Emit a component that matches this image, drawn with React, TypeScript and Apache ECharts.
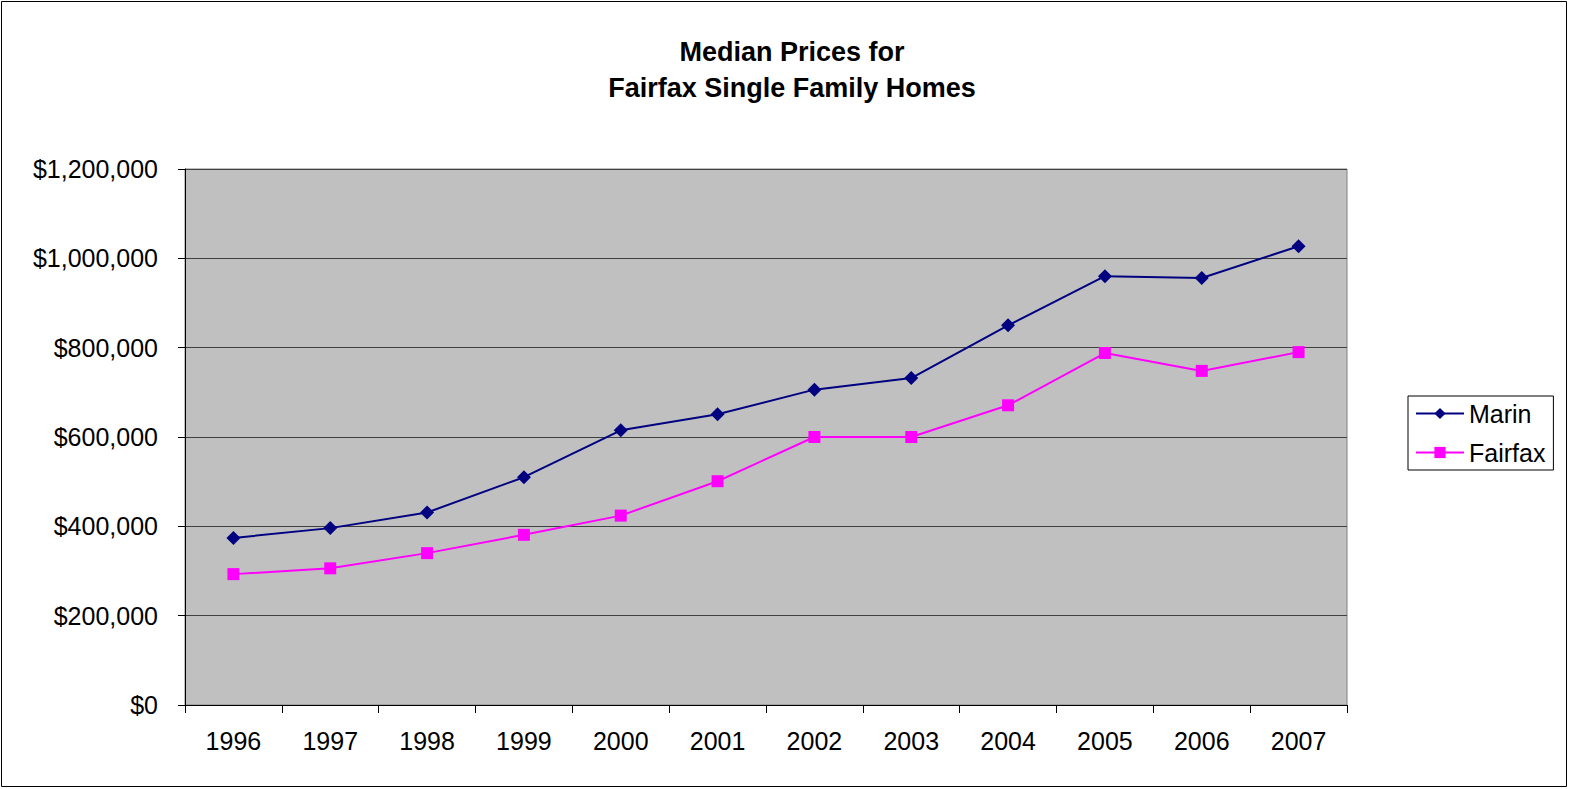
import React, { useEffect, useRef } from "react";
import * as echarts from "echarts";

const years = ["1996", "1997", "1998", "1999", "2000", "2001", "2002", "2003", "2004", "2005", "2006", "2007"];
const marin = [374000, 396000, 431000, 510000, 615000, 651000, 706000, 732000, 850000, 960000, 956000, 1027000];
const fairfax = [293000, 306000, 340000, 381000, 424000, 501000, 600000, 600000, 671000, 788000, 748000, 790000];
const titleLines = ["Median Prices for", "Fairfax Single Family Homes"];

const FONT = "'Liberation Sans', Arial, sans-serif";

export default function App() {
  const ref = useRef<HTMLDivElement>(null);
  useEffect(() => {
    const chart = echarts.init(ref.current!, null, { renderer: "svg" });
    chart.setOption({
      animation: false,
      backgroundColor: "#ffffff",
      textStyle: { fontFamily: FONT },
      graphic: [
        {
          type: "rect",
          shape: { x: 1.5, y: 1.5, width: 1565, height: 785 },
          style: { fill: "none", stroke: "#000", lineWidth: 1 },
          silent: true,
        },
        {
          type: "text",
          x: 792,
          y: 52,
          style: {
            text: titleLines[0],
            font: `bold 27px ${FONT}`,
            fill: "#000",
            textAlign: "center",
            textVerticalAlign: "middle",
          },
        },
        {
          type: "text",
          x: 792,
          y: 88,
          style: {
            text: titleLines[1],
            font: `bold 27px ${FONT}`,
            fill: "#000",
            textAlign: "center",
            textVerticalAlign: "middle",
          },
        },
      ],
      grid: {
        left: 185,
        top: 169,
        width: 1162,
        height: 536,
        show: true,
        backgroundColor: "#C0C0C0",
        borderColor: "#808080",
        borderWidth: 1,
      },
      legend: {
        orient: "vertical",
        left: 1408,
        top: 396,
        padding: [5, 8, 5, 7],
        itemGap: 14,
        itemWidth: 48,
        itemHeight: 14,
        borderColor: "#000",
        borderWidth: 1,
        backgroundColor: "#fff",
        textStyle: { fontSize: 25, color: "#000", fontFamily: FONT },
        data: ["Marin", "Fairfax"],
      },
      xAxis: {
        type: "category",
        data: years,
        boundaryGap: true,
        axisLine: { lineStyle: { color: "#000", width: 1 } },
        axisTick: { show: true, length: 8, alignWithLabel: false, lineStyle: { color: "#000" } },
        axisLabel: { fontSize: 25, color: "#000", margin: 23, fontFamily: FONT },
        splitLine: { show: false },
      },
      yAxis: {
        type: "value",
        min: 0,
        max: 1200000,
        interval: 200000,
        axisLine: { show: true, lineStyle: { color: "#000", width: 1 } },
        axisTick: { show: true, length: 7, lineStyle: { color: "#000" } },
        axisLabel: {
          fontSize: 25,
          color: "#000",
          margin: 27,
          fontFamily: FONT,
          formatter: (v: number) => "$" + v.toLocaleString("en-US"),
        },
        splitLine: { show: true, lineStyle: { color: "#404040", width: 1 } },
      },
      series: [
        {
          name: "Marin",
          type: "line",
          data: marin,
          symbol: "diamond",
          symbolSize: 14,
          lineStyle: { color: "#000080", width: 2 },
          itemStyle: { color: "#000080" },
        },
        {
          name: "Fairfax",
          type: "line",
          data: fairfax,
          symbol: "rect",
          symbolSize: 12,
          lineStyle: { color: "#FF00FF", width: 2 },
          itemStyle: { color: "#FF00FF" },
        },
      ],
    });
    return () => chart.dispose();
  }, []);
  return (
    <div
      ref={ref}
      style={{ position: "absolute", left: 0, top: 0, width: 1570, height: 789 }}
    />
  );
}
